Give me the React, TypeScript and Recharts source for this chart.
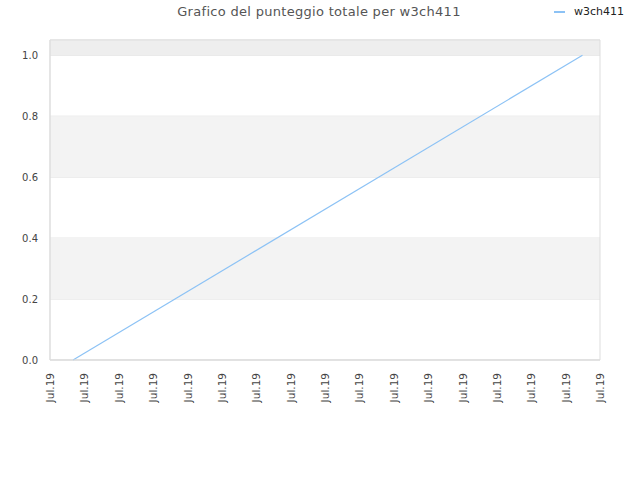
import React from 'react';
import {
  LineChart,
  Line,
  XAxis,
  YAxis,
  CartesianGrid,
  ReferenceArea,
} from 'recharts';

// score data: position along the time axis (tick units) and total score
const seriesName = 'w3ch411';
const timePoints = [0.67, 15.49];
const scores = [0, 1];

const xTicks = [0, 1, 2, 3, 4, 5, 6, 7, 8, 9, 10, 11, 12, 13, 14, 15, 16];
const xTickLabels = ['Jul.19', 'Jul.19', 'Jul.19', 'Jul.19', 'Jul.19', 'Jul.19', 'Jul.19', 'Jul.19', 'Jul.19',
  'Jul.19', 'Jul.19', 'Jul.19', 'Jul.19', 'Jul.19', 'Jul.19', 'Jul.19', 'Jul.19'];
const yTicks = [0, 0.2, 0.4, 0.6, 0.8, 1.0];
const bands = [[0.2, 0.4], [0.6, 0.8]];

const data = timePoints.map((t, i) => ({ t, score: scores[i] }));

const FONT = '"DejaVu Sans", sans-serif';
const LINE_COLOR = '#8cc2f5';

const RotatedTick = ({ x, y, payload }: any) => {
  const idx = xTicks.indexOf(payload.value);
  return (
    <text
      x={0}
      y={0}
      dy={4}
      textAnchor="end"
      fontSize={10.5}
      fontFamily={FONT}
      fill="#444"
      transform={`translate(${x},${y + 5}) rotate(-90)`}
    >
      {xTickLabels[idx] ?? ''}
    </text>
  );
};

export default function App() {
  return (
    <div style={{ position: 'absolute', left: 0, top: 0, width: 640, height: 480, background: '#fff' }}>
      <div
        style={{
          position: 'absolute',
          top: 4,
          left: 0,
          width: 638,
          textAlign: 'center',
          fontFamily: FONT,
          fontSize: 13,
          color: '#555',
          letterSpacing: 0.3,
        }}
      >
        Grafico del punteggio totale per w3ch411
      </div>
      <div
        style={{
          position: 'absolute',
          top: 5,
          left: 554,
          display: 'flex',
          alignItems: 'center',
          fontFamily: FONT,
          fontSize: 11,
          color: '#222',
        }}
      >
        <span style={{ display: 'inline-block', width: 11, height: 2, background: LINE_COLOR, marginRight: 9 }} />
        {seriesName}
      </div>
      <LineChart width={640} height={480} data={data} margin={{ top: 40, right: 40, bottom: 70, left: 0 }}>
        {bands.map(([a, b], i) => (
          <ReferenceArea key={i} y1={a} y2={b} fill="#f3f3f3" fillOpacity={1} stroke="none" ifOverflow="hidden" />
        ))}
        <ReferenceArea y1={1.0} y2={1.05} fill="#eeeeee" fillOpacity={1} stroke="none" />
        <CartesianGrid vertical={false} stroke="#e0e0e0" />
        <ReferenceArea y1={0} y2={1.05} fill="none" stroke="#dddddd" strokeWidth={1} />
        <XAxis
          dataKey="t"
          type="number"
          domain={[0, 16]}
          ticks={xTicks}
          interval={0}
          height={50}
          axisLine={{ stroke: '#dddddd' }}
          tickLine={false}
          tick={<RotatedTick />}
        />
        <YAxis
          type="number"
          domain={[0, 1.05]}
          ticks={yTicks}
          width={50}
          axisLine={{ stroke: '#dddddd' }}
          tickLine={false}
          tickMargin={6}
          tickFormatter={(v: number) => v.toFixed(1)}
          tick={{ fontSize: 10, fontFamily: FONT, fill: '#444' }}
        />
        <Line
          type="linear"
          dataKey="score"
          stroke={LINE_COLOR}
          strokeWidth={1.2}
          dot={false}
          isAnimationActive={false}
        />
      </LineChart>
    </div>
  );
}
